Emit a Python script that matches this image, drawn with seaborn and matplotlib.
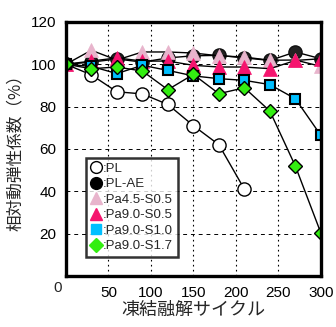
import matplotlib
matplotlib.use("Agg")
import matplotlib.pyplot as plt
import seaborn as sns
import numpy as np
from matplotlib.lines import Line2D

cycles = [0, 30, 60, 90, 120, 150, 180, 210, 240, 270, 300]
pl = [100, 95, 87, 86, 81, 71, 62, 41]
pl_ae = [100, 101, 102.5, 101, 103, 104, 104.2, 103, 101.8, 105.8, 102.6]
pa45_s05 = [100, 106.6, 102, 105.8, 105.8, 105.3, 104, 103.4, 101.9, 102, 99]
pa90_s05 = [100, 101.5, 103, 101.5, 101.5, 99.5, 98.7, 98.7, 97.9, 101.8, 102.6]
pa90_s10 = [100, 99, 95.6, 99.5, 97.1, 94.5, 93.2, 92.4, 90.4, 83.7, 66.4]
pa90_s17 = [100, 97.9, 98.7, 96.8, 88, 95.2, 86.1, 88.9, 77.9, 51.9, 20.3]
labels = [":PL", ":PL-AE", ":Pa4.5-S0.5", ":Pa9.0-S0.5", ":Pa9.0-S1.0", ":Pa9.0-S1.7"]
xticks = [50, 100, 150, 200, 250, 300]
yticks = [20, 40, 60, 80, 100, 120]

sns.set_theme(style="white")
plt.rcParams['font.family'] = ['Liberation Sans', 'DejaVu Sans']

fig = plt.figure(figsize=(3.36, 3.27), dpi=100)
ax = fig.add_axes([0.196, 0.156, 0.759, 0.777])

series = [
    (pl, dict(marker='o', markerfacecolor='white', markeredgecolor='black', markersize=9.5, markeredgewidth=1.0)),
    (pl_ae, dict(marker='o', markerfacecolor='#222222', markeredgecolor='#111111', markersize=9.5, markeredgewidth=1.0)),
    (pa45_s05, dict(marker='^', markerfacecolor='#E8B4CC', markeredgecolor='#E8B4CC', markersize=10.5, markeredgewidth=0.5)),
    (pa90_s05, dict(marker='^', markerfacecolor='#F5146E', markeredgecolor='#F5146E', markersize=10.5, markeredgewidth=0.5)),
    (pa90_s10, dict(marker='s', markerfacecolor='#00BFFF', markeredgecolor='black', markersize=7.5, markeredgewidth=1.5)),
    (pa90_s17, dict(marker='D', markerfacecolor='#33EE11', markeredgecolor='black', markersize=7.5, markeredgewidth=1.0)),
]
for vals, kw in series:
    sns.lineplot(x=cycles[:len(vals)], y=vals, ax=ax, color='black', linewidth=1.0, **kw)

ax.set_xlim(0, 300)
ax.set_ylim(0, 120)
ax.set_xticks(xticks)
ax.set_yticks(yticks)
ax.tick_params(direction='in', length=5, width=2, colors='black', labelsize=11, pad=7)
for s in ax.spines.values():
    s.set_linewidth(2.4)
    s.set_color('black')
for v in [20, 40, 60, 80, 100]:
    ax.axhline(v, color='black', linewidth=0.7, linestyle=(0, (4, 4)), zorder=0)
for v in [50, 100, 150, 200, 250]:
    ax.axvline(v, color='black', linewidth=0.8, linestyle=(0, (1.5, 3)), zorder=0)

ax.text(-0.031, -0.047, "0", transform=ax.transAxes, ha='center', va='center', fontsize=11)

ax.set_xlabel("凍結融解サイクル", family=['Noto Sans CJK JP', 'DejaVu Sans'], fontsize=13, labelpad=1)
ax.set_ylabel("相対動弾性係数（%）", family=['Noto Sans CJK JP', 'DejaVu Sans'], fontsize=12, labelpad=5)

handles = [
    Line2D([], [], linestyle='none', marker='o', markerfacecolor='white', markeredgecolor='black', markersize=8.5),
    Line2D([], [], linestyle='none', marker='o', markerfacecolor='black', markeredgecolor='black', markersize=8.5),
    Line2D([], [], linestyle='none', marker='^', markerfacecolor='#E8B4CC', markeredgecolor='#E8B4CC', markersize=8.5),
    Line2D([], [], linestyle='none', marker='^', markerfacecolor='#F5146E', markeredgecolor='#F5146E', markersize=8.5),
    Line2D([], [], linestyle='none', marker='s', markerfacecolor='#00BFFF', markeredgecolor='#00BFFF', markersize=7.5),
    Line2D([], [], linestyle='none', marker='D', markerfacecolor='#33EE11', markeredgecolor='#33EE11', markersize=7),
]
leg = ax.legend(handles, labels, loc='lower left', bbox_to_anchor=(0.078, 0.075), borderaxespad=0,
                fontsize=9.5, frameon=True, fancybox=False, handlelength=0.8, handletextpad=0.15,
                labelspacing=0.25, borderpad=0.35)
leg.get_frame().set_edgecolor('black')
leg.get_frame().set_linewidth(1.8)

fig.savefig("out.png", dpi=100)
